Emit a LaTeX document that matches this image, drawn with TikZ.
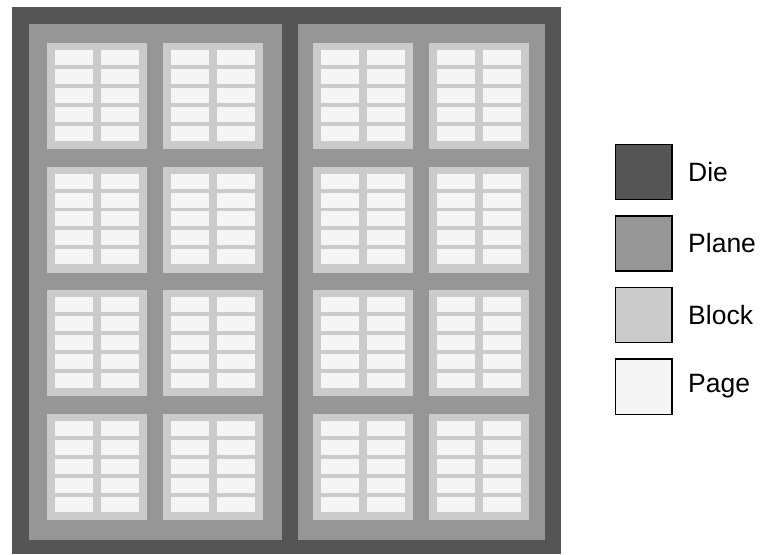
\documentclass[tikz,border=0pt]{standalone}
\usepackage{fontspec}
\setmainfont{Liberation Sans}
\definecolor{diec}{HTML}{555555}
\definecolor{planec}{HTML}{969696}
\definecolor{blockc}{HTML}{CBCBCB}
\definecolor{pagec}{HTML}{F5F5F5}
\begin{document}
\begin{tikzpicture}[x=1pt,y=-1pt,
  diebox/.style={fill=diec},
  planebox/.style={fill=planec},
  blockbox/.style={fill=blockc},
  pagebox/.style={fill=pagec},
  legbox/.style={draw=black,line width=1.4pt},
  legtext/.style={anchor=west,inner sep=0pt,font=\fontsize{26.5}{26.5}\selectfont}]
\useasboundingbox (0,0) rectangle (762,554);
% die
\fill[diebox] (12,7) rectangle (561,554);
% planes
\fill[planebox] (29,24) rectangle (282,540);
\fill[planebox] (298,24) rectangle (545,540);
% blocks and pages
\foreach \bx in {47,163,313,429}{
  \foreach \r in {0,1,2,3}{
    \pgfmathsetmacro{\by}{43+123.67*\r}
    \fill[blockbox] (\bx,\by) rectangle ++(100,106);
    \foreach \p in {0,...,4}{
      \pgfmathsetmacro{\py}{\by+7+18.9*\p}
      \fill[pagebox] (\bx+8,\py) rectangle ++(38,15);
      \fill[pagebox] (\bx+54,\py) rectangle ++(38,15);
    }
  }
}
% legend
\draw[legbox,fill=diec] (615.5,144.5) rectangle (672,199.5);
\draw[legbox,fill=planec] (615.5,216) rectangle (672,271);
\draw[legbox,fill=blockc] (615.5,287.5) rectangle (672,342.5);
\draw[legbox,fill=pagec] (615.5,359) rectangle (672,414.5);
\node[legtext] (tdie) at (688,172) {Die};
\node[legtext] (tplane) at (688,243.5) {Plane};
\node[legtext] (tblock) at (688,315) {Block};
\node[legtext] (tpage) at (688,386.5) {Page};
\end{tikzpicture}
\end{document}
